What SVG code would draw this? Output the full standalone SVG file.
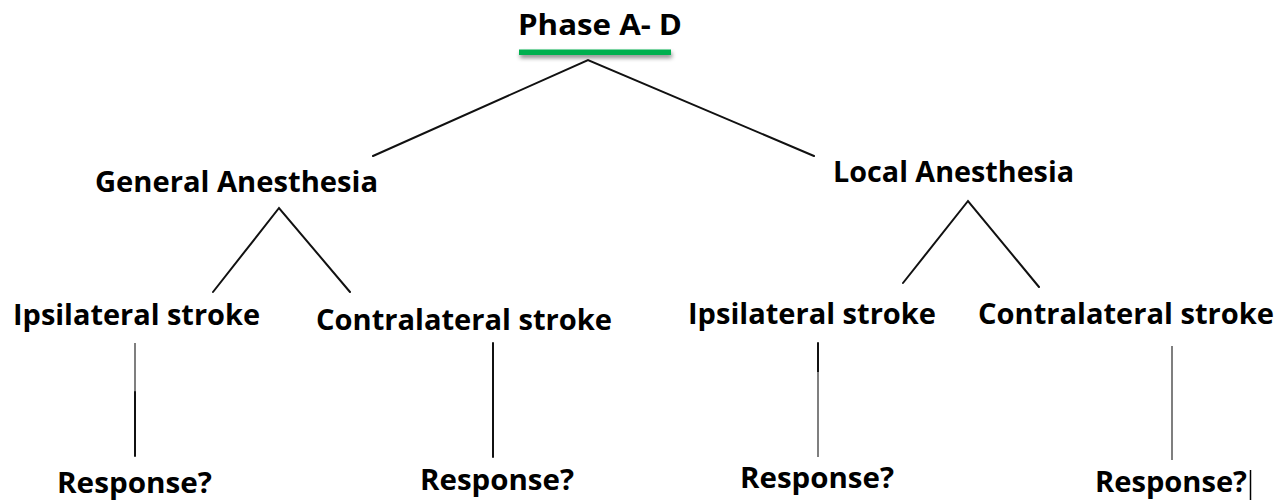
<svg xmlns="http://www.w3.org/2000/svg" width="1281" height="502" viewBox="0 0 1281 502">
  <defs>
    <filter id="barShadow" x="-10%" y="-100%" width="120%" height="400%">
      <feDropShadow dx="1" dy="3" stdDeviation="2" flood-color="#000" flood-opacity="0.45"/>
    </filter>
  </defs>
  <style>
    .label { font-family: "Open Sans", "Liberation Sans", sans-serif; font-weight: 700; font-size: 28px; fill: #000; }
    .edge { stroke: #111; stroke-width: 2; fill: none; stroke-linecap: round; }
    .edge-grey { stroke: #7f7f7f; stroke-width: 2; fill: none; }
  </style>

  <rect width="1281" height="502" fill="#fff"/>

  <!-- connectors -->
  <g id="connectors">
    <polyline class="edge" points="373,156 588,60 814,156"/>
    <polyline class="edge" points="213,292 279,208 350,292"/>
    <polyline class="edge" points="903,283 968,201 1039,287"/>
    <line class="edge-grey" x1="135" y1="343" x2="135" y2="392"/>
    <line class="edge" x1="135" y1="392" x2="135" y2="456"/>
    <line class="edge" x1="493" y1="343" x2="493" y2="457"/>
    <line class="edge" x1="818" y1="343" x2="818" y2="372"/>
    <line class="edge-grey" x1="818" y1="372" x2="818" y2="457"/>
    <line class="edge-grey" x1="1172" y1="346" x2="1172" y2="460"/>
  </g>

  <!-- root -->
  <g id="phase">
    <text class="label" x="518" y="35" textLength="164" lengthAdjust="spacingAndGlyphs">Phase A- D</text>
    <rect x="519" y="49.5" width="152" height="5.5" fill="#00b050" filter="url(#barShadow)"/>
  </g>

  <!-- anesthesia branches -->
  <g id="general">
    <text class="label" x="95" y="192" textLength="283" lengthAdjust="spacingAndGlyphs">General Anesthesia</text>
  </g>
  <g id="local">
    <text class="label" x="833" y="182" textLength="241" lengthAdjust="spacingAndGlyphs">Local Anesthesia</text>
  </g>

  <!-- stroke side -->
  <g id="general-ipsi">
    <text class="label" x="13" y="325" textLength="247" lengthAdjust="spacingAndGlyphs">Ipsilateral stroke</text>
  </g>
  <g id="general-contra">
    <text class="label" x="316" y="330" textLength="296" lengthAdjust="spacingAndGlyphs">Contralateral stroke</text>
  </g>
  <g id="local-ipsi">
    <text class="label" x="688" y="324" textLength="248" lengthAdjust="spacingAndGlyphs">Ipsilateral stroke</text>
  </g>
  <g id="local-contra">
    <text class="label" x="978" y="324" textLength="296" lengthAdjust="spacingAndGlyphs">Contralateral stroke</text>
  </g>

  <!-- responses -->
  <g id="response-1">
    <text class="label" x="57" y="493" textLength="155" lengthAdjust="spacingAndGlyphs">Response?</text>
  </g>
  <g id="response-2">
    <text class="label" x="420" y="490" textLength="154" lengthAdjust="spacingAndGlyphs">Response?</text>
  </g>
  <g id="response-3">
    <text class="label" x="740" y="488" textLength="154" lengthAdjust="spacingAndGlyphs">Response?</text>
  </g>
  <g id="response-4">
    <text class="label" x="1095" y="492" textLength="152" lengthAdjust="spacingAndGlyphs">Response?</text>
    <line x1="1250.5" y1="470" x2="1250.5" y2="500" stroke="#000" stroke-width="1.5"/>
  </g>
</svg>
